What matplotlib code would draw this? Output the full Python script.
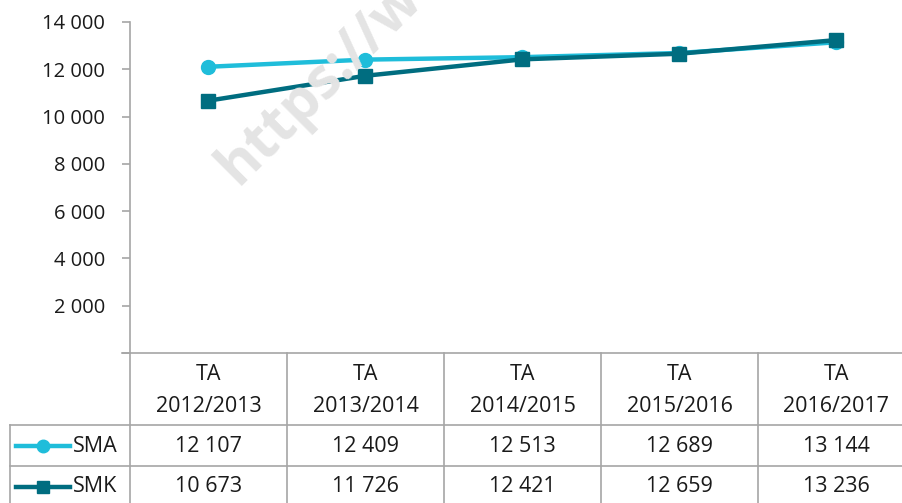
import numpy as np
import matplotlib
matplotlib.use("Agg")
import matplotlib.pyplot as plt
from matplotlib.lines import Line2D

plt.rcParams['font.family'] = ['Open Sans', 'DejaVu Sans']

years = ["2012/2013", "2013/2014", "2014/2015", "2015/2016", "2016/2017"]
sma = [12107, 12409, 12513, 12689, 13144]
smk = [10673, 11726, 12421, 12659, 13236]
series_names = ["SMA", "SMK"]
yticks = [0, 2000, 4000, 6000, 8000, 10000, 12000, 14000]

c_sma = "#1FBDDA"
c_smk = "#006D80"
grid_c = "#A6A6A6"

W, H = 903, 503
fig = plt.figure(figsize=(W / 100, H / 100), dpi=100)

# axes in pixel coords: left 130, right 915, top 22, bottom 353
L, R, T, B = 130, 915, 22, 353
ax = fig.add_axes([L / W, 1 - B / H, (R - L) / W, (B - T) / H])

def fmt(v):
    return "{:,}".format(v).replace(",", " ")

x = np.arange(len(years))
ax.plot(x, sma, color=c_sma, lw=3.2, marker="o", ms=10, zorder=3)
ax.plot(x, smk, color=c_smk, lw=3.2, marker="s", ms=9.5, zorder=4)

ax.set_xlim(-0.5, len(years) - 0.5)
ax.set_ylim(0, 14000)
ax.set_yticks(yticks)
ax.set_yticklabels(["" if v == 0 else fmt(v) for v in yticks])
ax.set_xticks([])
for s in ["top", "right", "bottom"]:
    ax.spines[s].set_visible(False)
ax.spines["left"].set_color(grid_c)
ax.spines["left"].set_linewidth(1.2)
ax.tick_params(axis="y", length=6, width=1.2, color=grid_c, labelsize=14.5,
               pad=12, labelcolor="#1a1a1a")

# watermark
fig.text(238 / W, 1 - 186 / H, "https://w", rotation=45, fontsize=41,
         fontweight="bold", color="#E4E4E4", ha="left", va="baseline",
         rotation_mode="anchor", zorder=0)

# data table (figure pixel coords)
def px(xp, yp):
    return xp / W, 1 - yp / H

def hline(y, x0, x1):
    fig.add_artist(Line2D([x0 / W, x1 / W], [1 - y / H, 1 - y / H],
                          color=grid_c, lw=1.2))

def vline(xp, y0, y1):
    fig.add_artist(Line2D([xp / W, xp / W], [1 - y0 / H, 1 - y1 / H],
                          color=grid_c, lw=1.2))

col_w = (R - L) / len(years)
hline(B, 122, W)
hline(425, 10, W)
hline(466, 10, W)
vline(L, B, H)
vline(10, 425, H)
for i in range(1, len(years)):
    vline(L + i * col_w, B, H)

tkw = dict(fontsize=15.5, color="#1a1a1a", ha="center", va="center")
for i, yr in enumerate(years):
    cx = L + (i + 0.5) * col_w
    fig.text(*px(cx, 375), "TA", **tkw)
    fig.text(*px(cx, 406), yr, **tkw)
    fig.text(*px(cx, 446), fmt(sma[i]), **tkw)
    fig.text(*px(cx, 487), fmt(smk[i]), **tkw)

for vals, name, col, mk, ms, ry in [(sma, "SMA", c_sma, "o", 9, 446),
                                    (smk, "SMK", c_smk, "s", 8.5, 487)]:
    fig.add_artist(Line2D([16 / W, 70 / W], [1 - ry / H, 1 - ry / H],
                          color=col, lw=3.2))
    fig.add_artist(Line2D([43 / W], [1 - ry / H], color=col, marker=mk,
                          ms=ms, lw=0))
    fig.text(*px(73, ry), name, fontsize=15.5, color="#1a1a1a",
             ha="left", va="center")

fig.savefig("out.png", dpi=100)
